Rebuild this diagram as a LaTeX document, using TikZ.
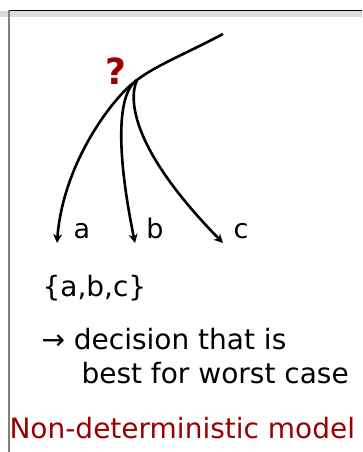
\documentclass[tikz,border=0pt]{standalone}
\usepackage{fontspec}
\setmainfont{DejaVu Sans}
\usetikzlibrary{arrows.meta}
\definecolor{slideRed}  {RGB}{153, 0,   0}
\definecolor{barGray}   {RGB}{217, 221, 224}
\definecolor{edgeGray}  {RGB}{128, 128, 128}

\begin{document}
\begin{tikzpicture}[x=1pt,y=-1pt,
    branch/.style={line width=2.6pt,-{Stealth[length=9pt,width=9pt]}},
    leaf/.style={font=\fontsize{27}{30}\selectfont,anchor=base},
    body/.style={font=\fontsize{28}{32}\selectfont,anchor=base west}]

    \useasboundingbox (0,0) rectangle (362,452);

    % ── FRAME ──────────────────────────────────────────────
    \fill[barGray] (0,11) rectangle (362,17);
    \draw[line width=1.2pt] (8,10.5) -- (362,10.5);
    \draw[edgeGray,line width=2pt] (8.5,10) -- (8.5,452);

    % ── TREE ───────────────────────────────────────────────
    \coordinate (start) at (223,34);
    \coordinate (fork)  at (137,80);
    \coordinate (ea)    at (57,243);
    \coordinate (eb)    at (135,243);
    \coordinate (ec)    at (223,243);

    \node[font=\bfseries\fontsize{36}{38}\selectfont,slideRed] (q) at (116,71){?};

    \draw[line width=2.6pt] (start) .. controls (185,54) and (155,66) .. (fork);
    \draw[branch] (fork) .. controls (113,97) and (63,163) .. (ea);
    \draw[branch] (fork) .. controls (115,95) and (118,160) .. (eb);
    \draw[branch] (fork) .. controls (128,100) and (132,150) .. (ec);

    \node[leaf] (la) at (82,238){a};
    \node[leaf] (lb) at (155,238){b};
    \node[leaf] (lc) at (241,238){c};

    % ── TEXT ───────────────────────────────────────────────
    \node[body] (set)  at (39,296){\{a,b,c\}};
    \node[body] (dec1) at (38,349){→ decision that is};
    \node[body] (dec2) at (78,383){best for worst case};
    \node[body,slideRed] (model) at (6,438){Non-deterministic model};

\end{tikzpicture}
\end{document}
